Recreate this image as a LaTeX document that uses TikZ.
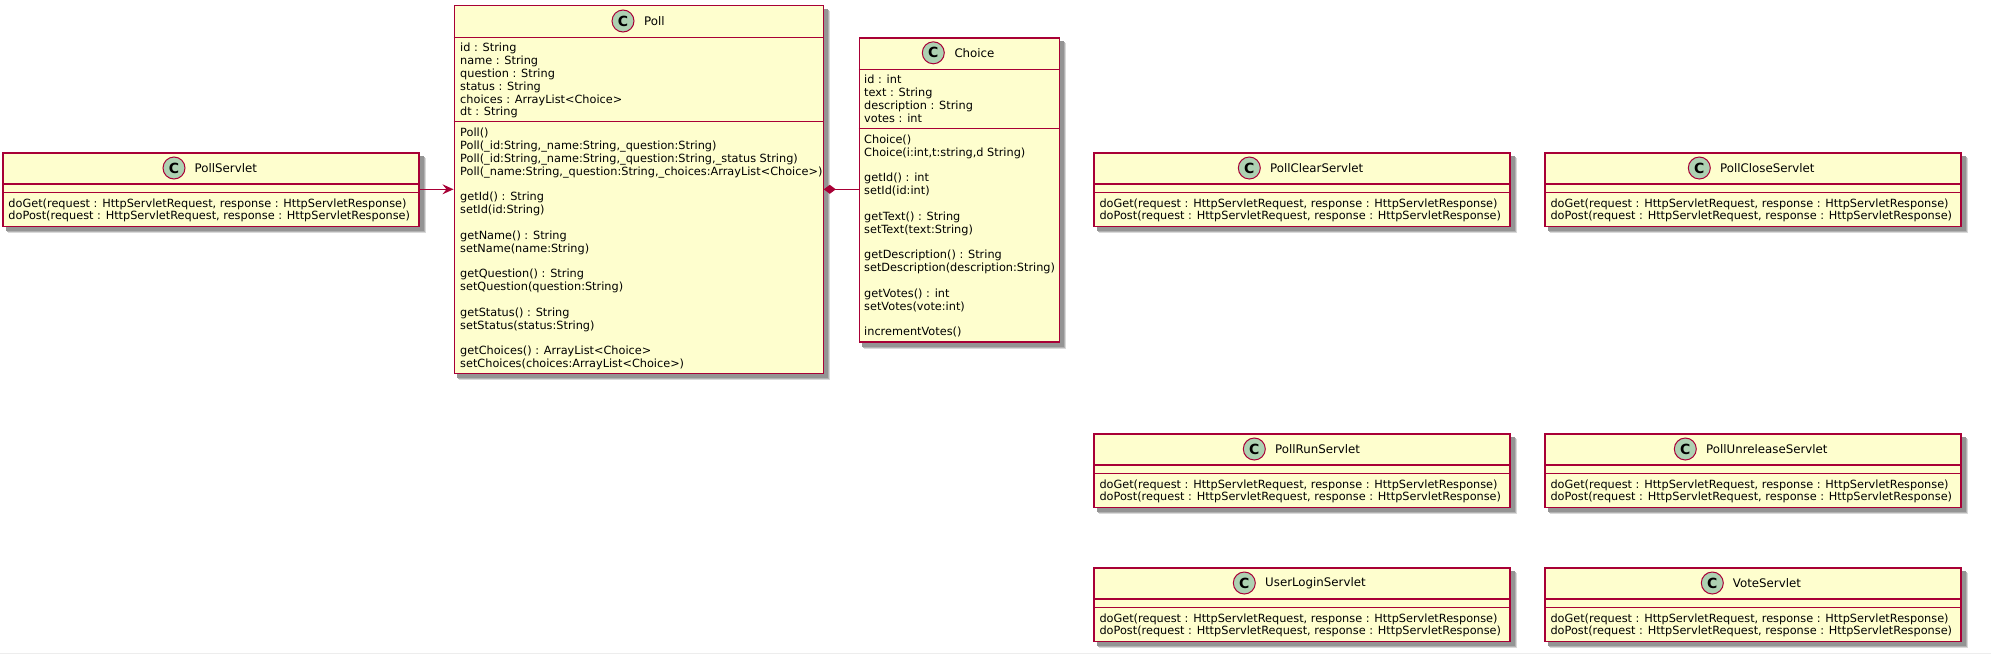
\documentclass[tikz,border=0pt]{standalone}
\usepackage{fontspec}
\setmainfont{DejaVu Sans}
\usetikzlibrary{arrows.meta}
\definecolor{umlred}{HTML}{A80036}
\definecolor{umlfill}{HTML}{FEFECE}
\definecolor{umlc}{HTML}{ADD1B2}
\definecolor{edgeline}{HTML}{EDEDED}
\tikzset{
  x=1pt,y=-1pt,
  umlbox/.style={draw=umlred,fill=umlfill,line width=1.3pt,rectangle,inner sep=0pt,anchor=north west,
    preaction={draw=black!15,fill=black!15,line width=1.5pt,transform canvas={xshift=6pt,yshift=-6pt}},
    preaction={draw=black!30,fill=black!30,line width=1.5pt,transform canvas={xshift=5pt,yshift=-5pt}},
    preaction={draw=black!42,fill=black!42,line width=1.5pt,transform canvas={xshift=4pt,yshift=-4pt}}},
  sepline/.style={draw=umlred,line width=1.3pt},
  badge/.style={circle,draw=umlred,fill=umlc,line width=1pt,minimum size=22pt,inner sep=0pt},
  badgetext/.style={font=\fontsize{14}{14}\selectfont\bfseries,text=black,inner sep=0pt},
  titletext/.style={font=\fontsize{11.8}{14}\selectfont,text=black,inner sep=0pt,anchor=west},
  membertext/.style={font=\fontsize{11.3}{12.83}\selectfont,text=black,inner sep=0pt,anchor=north west,align=left},
  link/.style={draw=umlred,line width=1.1pt},
}
\newcommand{\doMethods}{doGet(request : HttpServletRequest, response : HttpServletResponse)\\doPost(request : HttpServletRequest, response : HttpServletResponse)}
\begin{document}
\begin{tikzpicture}
\useasboundingbox (0,0) rectangle (1991,654);
\fill[white] (0,0) rectangle (1991,654);
\coordinate (edgeL) at (0,653);
\coordinate (edgeR) at (1991,653);
\draw[edgeline,line width=1pt] (edgeL) -- (edgeR);

\node[umlbox,minimum width=369pt,minimum height=368pt] (poll) at (453.5,5) {};
\path[sepline] (453.5,37.3) -- (822.5,37.3);
\path[sepline] (453.5,121.7) -- (822.5,121.7);
\node[badge] (pollbadge) at (623,21) {};
\node[badgetext] (pollc) at (pollbadge) {C};
\node[titletext] (polltitle) at (644,21) {Poll};
\node[membertext] (pollattrs) at (460,43) {id : String\\name : String\\question : String\\status : String\\choices : ArrayList<Choice>\\dt : String};
\node[membertext] (pollmethods) at (460,128) {Poll()\\Poll(\_id:String,\_name:String,\_question:String)\\Poll(\_id:String,\_name:String,\_question:String,\_status String)\\Poll(\_name:String,\_question:String,\_choices:ArrayList<Choice>)\\[12.83pt]getId() : String\\setId(id:String)\\[12.83pt]getName() : String\\setName(name:String)\\[12.83pt]getQuestion() : String\\setQuestion(question:String)\\[12.83pt]getStatus() : String\\setStatus(status:String)\\[12.83pt]getChoices() : ArrayList<Choice>\\setChoices(choices:ArrayList<Choice>)};

\node[umlbox,minimum width=200pt,minimum height=304pt] (choice) at (858.5,37.3) {};
\path[sepline] (858.5,69.3) -- (1058.5,69.3);
\path[sepline] (858.5,128.3) -- (1058.5,128.3);
\node[badge] (choicebadge) at (933.3,52.8) {};
\node[badgetext] (choicec) at (choicebadge) {C};
\node[titletext] (choicetitle) at (954.3,52.8) {Choice};
\node[membertext] (choiceattrs) at (864,75) {id : int\\text : String\\description : String\\votes : int};
\node[membertext] (choicemethods) at (864,134.5) {Choice()\\Choice(i:int,t:string,d String)\\[12.83pt]getId() : int\\setId(id:int)\\[12.83pt]getText() : String\\setText(text:String)\\[12.83pt]getDescription() : String\\setDescription(description:String)\\[12.83pt]getVotes() : int\\setVotes(vote:int)\\[12.83pt]incrementVotes()};

\foreach \nm/\tx/\xl/\bx/\ty/\yy in {
  pollservlet/PollServlet/2.3/174/194.5/152.3,
  pollclear/PollClearServlet/1093.3/1249.3/1270/152.3,
  pollclose/PollCloseServlet/1544.3/1699.3/1720/152.3,
  pollrun/PollRunServlet/1093.3/1254.3/1275/433.3,
  pollunrelease/PollUnreleaseServlet/1544.3/1685.3/1706/433.3,
  userlogin/UserLoginServlet/1093.3/1244.3/1265/567.3,
  vote/VoteServlet/1544.3/1712.3/1732.7/567.3}{
  \node[umlbox,minimum width=416pt,minimum height=73.4pt] (\nm) at (\xl,\yy) {};
  \path[sepline] (\xl,\yy+31.7) -- (\xl+416,\yy+31.7);
  \path[sepline] (\xl,\yy+40) -- (\xl+416,\yy+40);
  \node[badge] (\nm badge) at (\bx,\yy+15.7) {};
  \node[badgetext] (\nm c) at (\nm badge) {C};
  \node[titletext] (\nm title) at (\ty,\yy+15.7) {\tx};
  \node[membertext] (\nm methods) at (\xl+6,\yy+46) {\doMethods};
}

\coordinate (arrowstart) at (pollservlet.east|-0,189.3);
\coordinate (arrowend) at (poll.west|-0,189.3);
\draw[link,-{Stealth[length=11pt,width=10pt,inset=4pt]}] (arrowstart) -- (arrowend);
\coordinate (compstart) at (poll.east|-0,189.3);
\coordinate (compend) at (choice.west|-0,189.3);
\draw[link,{Diamond[length=12pt,width=9pt,fill=umlred]}-] (compstart) -- (compend);
\end{tikzpicture}
\end{document}
